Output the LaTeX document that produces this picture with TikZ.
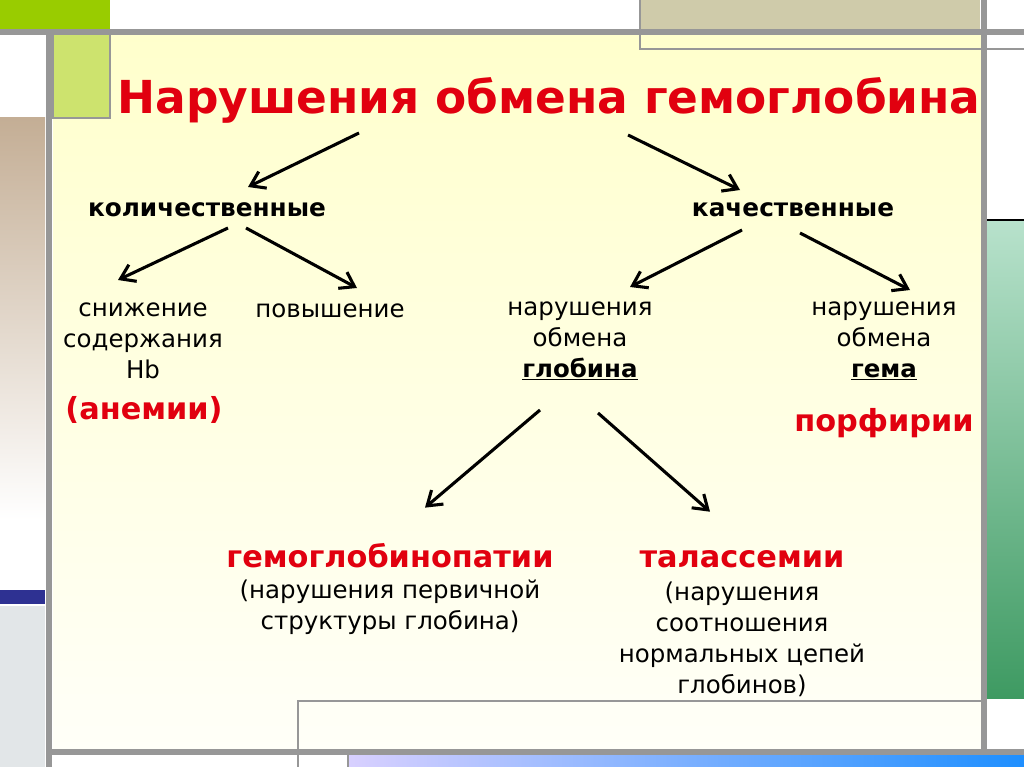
\documentclass[tikz,border=0pt]{standalone}
\usepackage{fontspec}
\setmainfont{DejaVu Sans}
\usepackage{xcolor}
\usetikzlibrary{arrows.meta, calc}
\definecolor{slidered}{HTML}{E1000F}
\definecolor{framegrey}{HTML}{979797}
\definecolor{limebar}{HTML}{99CC00}
\definecolor{limesoft}{HTML}{CDE36E}
\definecolor{tanbar}{HTML}{C4AE95}
\definecolor{khakibar}{HTML}{CFCBAA}
\definecolor{creamtop}{HTML}{FFFFCC}
\definecolor{creambot}{HTML}{FFFFF8}
\definecolor{navybar}{HTML}{2E3192}
\definecolor{mistbar}{HTML}{E2E6E8}
\definecolor{minttop}{HTML}{B8E2CC}
\definecolor{mintbot}{HTML}{3E9A62}
\definecolor{lavender}{HTML}{D8D0FF}
\definecolor{skyblue}{HTML}{1E8FFF}

\begin{document}
\begin{tikzpicture}[
    x=0.025cm, y=-0.025cm,
    % Text styles
    heading/.style={font=\fontsize{32.3}{36}\selectfont\bfseries, text=slidered, inner sep=0pt},
    kind/.style={font=\fontsize{17.6}{22}\selectfont\bfseries, inner sep=0pt},
    plain/.style={font=\fontsize{17.4}{22}\selectfont, align=center, inner sep=0pt},
    disease/.style={font=\fontsize{21.6}{24}\selectfont\bfseries, text=slidered, inner sep=0pt},
    % Arrow style
    branch/.style={-{Straight Barb[length=3.4mm, width=4.6mm, line width=2.2pt]}, line width=2.2pt, draw=black},
    % Frame styles
    rule/.style={draw=framegrey, line width=4pt},
    thinrule/.style={draw=framegrey, line width=1.2pt},
]
\useasboundingbox (0,0) rectangle (1024,767);

% ============================================================================
% SLIDE FRAME
% ============================================================================
\fill[top color=creamtop, bottom color=creambot] (53,33) rectangle (982,750);
\fill[limebar] (0,0) rectangle (110,30);
\fill[limesoft, draw=framegrey, line width=0.8pt] (53,33) rectangle (110,118);
\fill[top color=tanbar, bottom color=white] (0,118) rectangle (45,520);
\fill[navybar] (0,590) rectangle (45,604);
\fill[mistbar] (0,606) rectangle (45,767);
\fill[khakibar] (640,0) rectangle (980,30);
\draw[thinrule] (640,0) -- (640,49) -- (1024,49);
\fill[top color=minttop, bottom color=mintbot] (987,220) rectangle (1024,698);
\draw[line width=1.5pt] (985,220) -- (1024,220);
\fill[left color=lavender, right color=skyblue] (349,755) rectangle (1024,767);
\draw[thinrule] (298,767) -- (298,701) -- (982,701);
\draw[thinrule] (348,755) -- (348,767);
\draw[rule] (0,32) -- (1024,32);
\draw[rule] (49,32) -- (49,767);
\draw[rule] (984,0) -- (984,752);
\draw[rule] (47,752) -- (1024,752);

% ============================================================================
% TITLE AND MAIN BRANCHES
% ============================================================================
\node[heading] (title) at (549,100) {Нарушения обмена гемоглобина};
\node[kind] (kol) at (207,210) {количественные};
\node[kind] (kach) at (793,210) {качественные};

\draw[branch] ($(title)+(-190,33)$) -- ($(kol)+(41,-23)$);
\draw[branch] ($(title)+(79,35)$) -- ($(kach)+(-53,-20)$);

% ============================================================================
% QUANTITATIVE
% ============================================================================
\node[plain] (snizh) at (143,341) {снижение\\содержания\\Hb};
\node[plain] (povysh) at (330,311) {повышение};
\node[disease] (anemii) at (144,410) {(анемии)};

\draw[branch] ($(kol)+(21,18)$) -- ($(snizh)+(-25,-61)$);
\draw[branch] ($(kol)+(39,18)$) -- ($(povysh)+(27,-23)$);

% ============================================================================
% QUALITATIVE
% ============================================================================
\node[plain] (glob) at (580,341) {нарушения\\обмена\\\underline{\textbf{глобина}}};
\node[plain] (gema) at (884,341) {нарушения\\обмена\\\underline{\textbf{гема}}};
\node[disease] (porf) at (884,423) {порфирии};

\draw[branch] ($(kach)+(-51,20)$) -- ($(glob)+(50,-54)$);
\draw[branch] ($(kach)+(7,23)$) -- ($(gema)+(26,-51)$);

% ============================================================================
% GLOBIN DISORDERS
% ============================================================================
\node[disease, anchor=base] (gemoglob) at (390,567) {гемоглобинопатии};
\node[plain] (gemoglobtxt) at (390,607) {(нарушения первичной\\структуры глобина)};
\node[disease, anchor=base] (talass) at (742,567) {талассемии};
\node[plain] (talasstxt) at (742,639) {(нарушения\\соотношения\\нормальных цепей\\глобинов)};

\draw[branch] ($(glob)+(-40,69)$) -- ($(gemoglob.north)+(35,-35)$);
\draw[branch] ($(glob)+(18,72)$) -- ($(talass.north)+(-32,-38)$);

\end{tikzpicture}
\end{document}
